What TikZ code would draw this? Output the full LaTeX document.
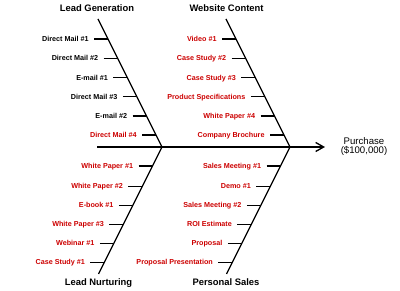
\documentclass[tikz,border=0pt]{standalone}
\usepackage{fontspec}
\setmainfont{Liberation Sans}
\usetikzlibrary{arrows.meta, positioning}
\definecolor{causered}{HTML}{CC0000}

\begin{document}
\begin{tikzpicture}[
    x=0.75pt, y=-0.75pt,
    cause/.style={font=\fontsize{5.4}{6}\selectfont\bfseries, text=causered, inner xsep=3.9pt, inner ysep=0pt, text height=3.9pt, text depth=0pt},
    done/.style={cause, text=black},
    title/.style={font=\fontsize{7.05}{8}\selectfont\bfseries, inner sep=0pt, text height=5pt, text depth=0pt},
    tick/.style={line width=0.95pt},
    bone/.style={line width=0.9pt},
    spine/.style={-{Straight Barb[length=6pt, width=6.75pt, line width=1pt]}, line width=1.5pt}
]
\useasboundingbox (0,0) rectangle (400,291);

% Spine and bones
\coordinate (tail) at (97,147);
\coordinate (head) at (325,147);
\coordinate (ja) at (162,147);
\coordinate (jb) at (290,147);
\coordinate (lgtop) at (98,19);
\coordinate (wctop) at (226,19);
\coordinate (lnend) at (98.5,274);
\coordinate (psend) at (226.5,274);

\draw[spine] (tail) -- (head);
\draw[bone] (lgtop) -- (ja);
\draw[bone] (wctop) -- (jb);
\draw[bone] (ja) -- (lnend);
\draw[bone] (jb) -- (psend);

% Titles
\node[title] (lg) at (97,8) {Lead Generation};
\node[title] (wc) at (226.5,8) {Website Content};
\node[title] (ln) at (98.5,282) {Lead Nurturing};
\node[title] (ps) at (226,282) {Personal Sales};
\node[align=center, font=\fontsize{7.2}{7}\selectfont] (goal) at (364,146.5) {Purchase\\(\$100,000)};

% Lead Generation
\coordinate (dm1b) at (108,39);
\coordinate (dm2b) at (117.65,58.3);
\coordinate (em1b) at (127.35,77.7);
\coordinate (dm3b) at (136.85,96.7);
\coordinate (em2b) at (146.5,116);
\coordinate (dm4b) at (156,135);
\node[done, left=10.5pt of dm1b] (dm1) {Direct Mail \#1};
\node[done, left=10.5pt of dm2b] (dm2) {Direct Mail \#2};
\node[done, left=10.5pt of em1b] (em1) {E-mail \#1};
\node[done, left=10.5pt of dm3b] (dm3) {Direct Mail \#3};
\node[done, left=10.5pt of em2b] (em2) {E-mail \#2};
\node[cause, left=10.5pt of dm4b] (dm4) {Direct Mail \#4};

% Website Content
\coordinate (vid1b) at (236,39);
\coordinate (cs2b) at (245.65,58.3);
\coordinate (cs3b) at (255.35,77.7);
\coordinate (specb) at (264.85,96.7);
\coordinate (wp4b) at (274.5,116);
\coordinate (brochb) at (284,135);
\node[cause, left=10.5pt of vid1b] (vid1) {Video \#1};
\node[cause, left=10.5pt of cs2b] (cs2) {Case Study \#2};
\node[cause, left=10.5pt of cs3b] (cs3) {Case Study \#3};
\node[cause, left=10.5pt of specb] (spec) {Product Specifications};
\node[cause, left=10.5pt of wp4b] (wp4) {White Paper \#4};
\node[cause, left=10.5pt of brochb] (broch) {Company Brochure};

% Lead Nurturing
\coordinate (wp1b) at (152.5,166);
\coordinate (wp2b) at (142.35,186.3);
\coordinate (eb1b) at (132.85,205.3);
\coordinate (wp3b) at (123.35,224.3);
\coordinate (web1b) at (113.85,243.3);
\coordinate (cs1b) at (104.35,262.3);
\node[cause, left=10.5pt of wp1b] (wp1) {White Paper \#1};
\node[cause, left=10.5pt of wp2b] (wp2) {White Paper \#2};
\node[cause, left=10.5pt of eb1b] (eb1) {E-book \#1};
\node[cause, left=10.5pt of wp3b] (wp3) {White Paper \#3};
\node[cause, left=10.5pt of web1b] (web1) {Webinar \#1};
\node[cause, left=10.5pt of cs1b] (cs1) {Case Study \#1};

% Personal Sales
\coordinate (sm1b) at (280.5,166);
\coordinate (demob) at (270.35,186.3);
\coordinate (sm2b) at (260.85,205.3);
\coordinate (roib) at (251.35,224.3);
\coordinate (propb) at (241.85,243.3);
\coordinate (presb) at (232.35,262.3);
\node[cause, left=10.5pt of sm1b] (sm1) {Sales Meeting \#1};
\node[cause, left=10.5pt of demob] (demo) {Demo \#1};
\node[cause, left=10.5pt of sm2b] (sm2) {Sales Meeting \#2};
\node[cause, left=10.5pt of roib] (roi) {ROI Estimate};
\node[cause, left=10.5pt of propb] (prop) {Proposal};
\node[cause, left=10.5pt of presb] (pres) {Proposal Presentation};

% Ticks
\draw[tick] (dm1) -- (dm1b);
\draw[tick] (dm2) -- (dm2b);
\draw[tick] (em1) -- (em1b);
\draw[tick] (dm3) -- (dm3b);
\draw[tick] (em2) -- (em2b);
\draw[tick] (dm4) -- (dm4b);
\draw[tick] (vid1) -- (vid1b);
\draw[tick] (cs2) -- (cs2b);
\draw[tick] (cs3) -- (cs3b);
\draw[tick] (spec) -- (specb);
\draw[tick] (wp4) -- (wp4b);
\draw[tick] (broch) -- (brochb);
\draw[tick] (wp1) -- (wp1b);
\draw[tick] (wp2) -- (wp2b);
\draw[tick] (eb1) -- (eb1b);
\draw[tick] (wp3) -- (wp3b);
\draw[tick] (web1) -- (web1b);
\draw[tick] (cs1) -- (cs1b);
\draw[tick] (sm1) -- (sm1b);
\draw[tick] (demo) -- (demob);
\draw[tick] (sm2) -- (sm2b);
\draw[tick] (roi) -- (roib);
\draw[tick] (prop) -- (propb);
\draw[tick] (pres) -- (presb);
\end{tikzpicture}
\end{document}
